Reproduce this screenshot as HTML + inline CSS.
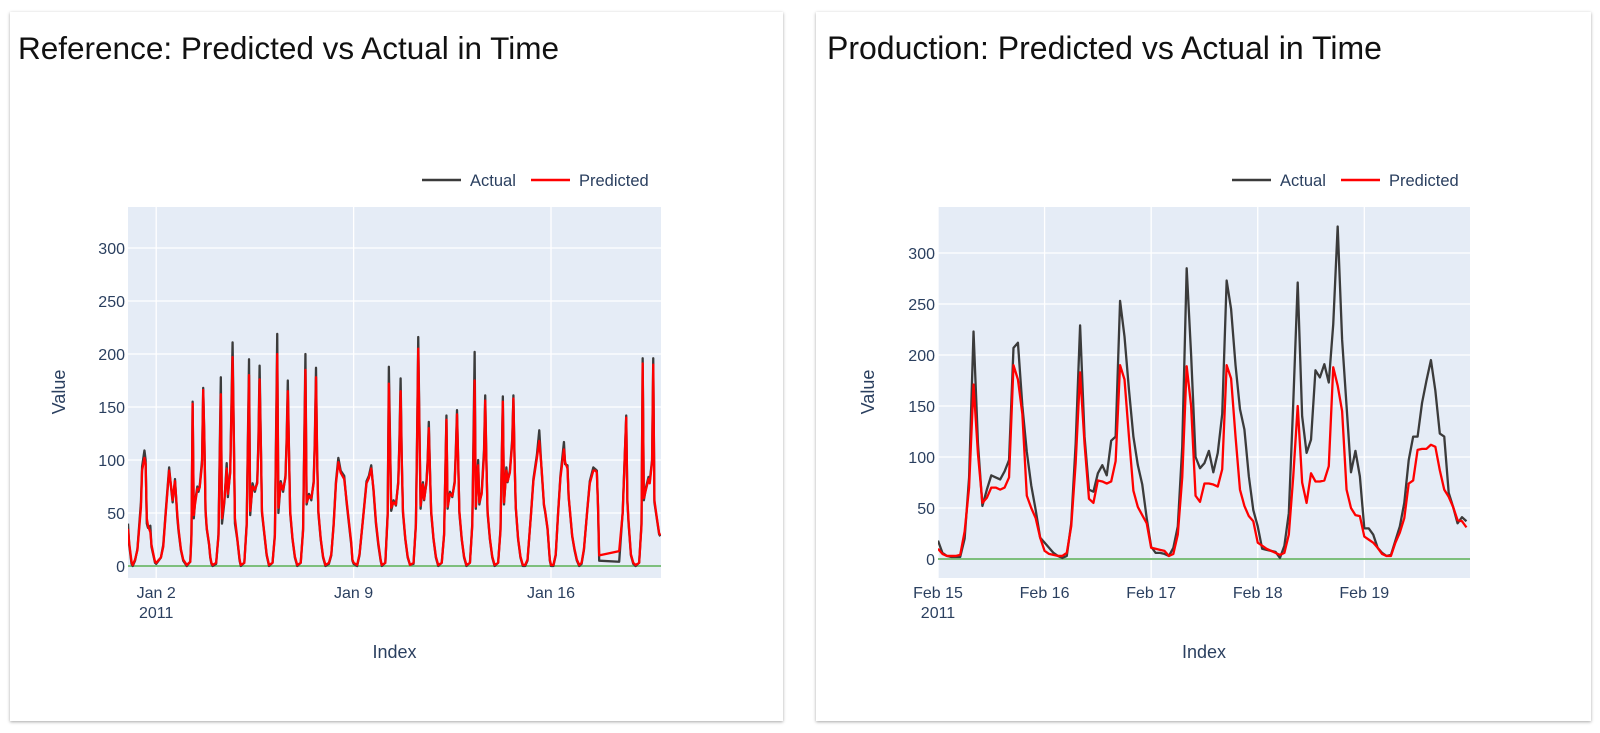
<!DOCTYPE html>
<html><head><meta charset="utf-8"><style>
html,body{margin:0;padding:0;background:#fff;width:1600px;height:733px;overflow:hidden}
.card{position:absolute;background:#fff;box-shadow:0 1px 3px rgba(0,0,0,0.35);}
svg{position:absolute;left:0;top:0}
</style></head><body>
<div class="card" style="left:10px;top:12px;width:773px;height:709px"></div>
<div class="card" style="left:816px;top:12px;width:775px;height:709px"></div>
<svg id="svg" width="1600" height="733" xmlns="http://www.w3.org/2000/svg"></svg>
<script>
// ---- Left (reference) chart data: hours since 2011-01-01 00:00 ----
const leftHours = [
0,1,3,4,6,8,11,12,14,15,16,17,19,20,22,23,
24,28,30,32,35,37,38,40,42,43,45,47,
50,53,54,55,56,57,59,60,61,63,64,65,66,67,69,70,71,
72,75,77,79,80,82,84,85,87,89,90,91,93,95,
96,99,101,103,104,106,108,110,111,112,113,114,116,118,
120,123,125,127,128,130,132,134,135,136,137,138,140,142,
144,147,149,151,152,154,156,158,159,160,161,162,164,166,
168,171,173,175,177,179,181,184,186,188,190,191,
192,195,197,200,203,205,207,209,211,213,215,
216,219,221,222,224,226,228,230,231,232,233,234,236,238,
240,243,245,246,247,249,251,252,254,255,256,257,258,260,262,
264,267,269,271,272,274,276,278,279,280,281,282,284,286,
288,291,293,295,296,298,299,301,303,304,305,306,308,310,
312,315,317,319,320,322,323,325,327,328,329,330,332,334,
336,338,340,343,345,348,350,352,354,355,357,358,359,
360,362,364,366,368,371,372,374,375,378,380,382,
384,386,388,391,393,396,398,399,400,401,418,421,424,425,426,428,430,
432,435,437,438,439,441,443,444,446,447,448,450,452,453];
const leftActual = [
40,20,2,0,5,16,60,94,109,100,40,36,38,18,8,3,
2,8,20,50,93,70,60,82,45,33,15,5,
0,4,30,155,45,60,75,70,75,100,168,120,51,35,20,8,2,
0,2,30,178,40,60,97,65,90,211,130,40,25,5,
0,3,40,195,48,78,70,80,120,189,120,50,30,10,
0,3,30,219,50,80,70,85,120,175,110,50,25,8,
0,3,35,200,58,68,62,80,120,187,100,50,25,8,
0,2,10,40,80,102,90,85,60,40,20,5,
2,0,10,45,80,85,95,70,40,20,5,
0,3,50,188,52,62,57,80,120,177,100,50,25,8,
1,2,40,120,216,54,79,62,80,100,136,90,50,25,8,
0,3,30,142,54,70,65,80,110,147,100,50,25,8,
0,3,40,202,54,100,58,70,110,161,100,50,25,8,
0,3,35,160,58,93,79,90,120,161,100,55,25,8,
0,0,5,50,82,105,128,90,57,51,35,20,5,
0,0,10,50,85,117,96,95,65,28,15,5,
0,2,15,55,80,93,91,90,55,5,4,51,142,60,40,10,2,
0,3,40,196,62,75,84,80,100,196,60,45,30,28];
const leftPred = [
35,22,4,1,6,15,55,90,102,96,45,38,32,20,9,4,
3,8,18,48,90,72,62,80,48,35,16,6,
1,4,28,153,48,58,73,72,74,96,166,118,53,36,21,9,3,
1,3,28,162,45,62,92,68,88,197,125,45,26,6,
1,3,38,180,52,75,72,78,115,176,118,52,31,11,
1,3,28,200,55,78,72,83,115,165,108,52,26,9,
1,3,33,185,60,66,64,78,115,178,98,52,26,9,
1,3,11,38,78,98,88,82,62,42,22,6,
3,1,11,44,78,83,92,72,42,22,6,
1,3,48,172,55,60,58,78,115,165,98,52,26,9,
1,3,38,115,205,57,77,63,78,97,130,88,52,26,9,
1,3,29,138,56,68,66,78,106,143,98,52,26,9,
1,3,38,175,56,95,60,68,105,156,98,52,26,9,
1,3,33,155,60,90,80,88,116,158,98,56,26,9,
1,1,6,49,80,102,118,92,58,52,36,21,6,
1,1,11,49,83,110,98,92,66,29,16,6,
1,3,16,54,78,90,90,88,57,10,14,50,140,62,42,11,3,
1,3,38,191,64,73,82,78,98,190,62,46,31,29];
const leftTickHours = [24,192,360];
const leftTickLabels = ["Jan 2","Jan 9","Jan 16"];
const yTickValues = [0,50,100,150,200,250,300];

// ---- Right (production) chart data: hourly from 2011-02-15 00:00 ----
const rightActual = [
18,6,3,2,2,2,20,80,223,113,
52,68,82,80,78,86,97,207,212,150,
105,72,48,21,16,11,6,3,1,3,
35,113,229,120,68,66,84,92,82,116,
120,253,218,166,120,92,73,40,12,6,
6,5,3,11,32,110,285,200,100,89,
94,106,85,104,142,273,245,190,147,127,
81,48,32,10,9,8,7,1,13,45,
153,271,140,104,117,185,178,191,173,230,
326,215,150,85,106,81,30,30,24,11,
6,3,4,18,32,55,97,120,120,153,
175,195,165,123,120,65,51,35,41,37];
const rightPred = [
10,5,3,3,3,4,27,70,171,103,
55,60,70,70,68,70,80,190,176,142,
62,50,40,21,8,5,4,3,3,6,
32,94,183,113,59,55,77,76,74,76,
96,190,176,120,67,51,43,35,11,10,
9,8,3,5,24,80,189,150,62,56,
74,74,73,71,88,190,177,120,68,52,
42,37,16,13,10,8,6,4,6,24,
81,150,75,55,84,76,76,77,91,188,
170,145,68,50,43,42,22,19,16,11,
5,3,3,16,26,40,74,77,107,108,
108,112,110,87,68,61,51,38,37,31];
const rightTickHours = [0,24,48,72,96];
const rightTickLabels = ["Feb 15","Feb 16","Feb 17","Feb 18","Feb 19"];

const NS="http://www.w3.org/2000/svg";
const svg=document.getElementById('svg');
function mk(tag,attrs,parent){const e=document.createElementNS(NS,tag);for(const k in attrs)e.setAttribute(k,attrs[k]);(parent||svg).appendChild(e);return e;}
const FONT='"Liberation Sans", sans-serif';
const TICKC='#2a3f5f';

function drawChart(cfg){
  const g=mk('g',{});
  
  
  const xS=h=>cfg.x0+(h-cfg.hMin)*(cfg.x1-cfg.x0)/(cfg.hMax-cfg.hMin);
  const yS=v=>cfg.y0px-(v-0)*cfg.pxPerUnit;
  const t=mk('text',{x:cfg.titleX,y:59,'font-family':'"Liberation Sans", sans-serif','font-size':cfg.titleSize,fill:'#111'},g);
  t.textContent=cfg.title;
  
  
  const bg=mk('rect',{x:cfg.x0,y:cfg.top,width:cfg.x1-cfg.x0,height:cfg.bottom-cfg.top,fill:'#e5ecf6'},g);
  
  
  yTickValues.forEach(v=>{
    const y=yS(v);
    const l=mk('line',{x1:cfg.x0,x2:cfg.x1,y1:y,y2:y,stroke:'#fff','stroke-width':1.3},g);
    
    
    const tx=mk('text',{x:cfg.x0-3,y:y+6,'text-anchor':'end','font-family':FONT,'font-size':16,fill:TICKC},g);
    tx.textContent=String(v);
    
    
  });
  cfg.ticks.forEach((h,i)=>{
    const x=xS(h);
    const l=mk('line',{x1:x,x2:x,y1:cfg.top,y2:cfg.bottom,stroke:'#fff','stroke-width':1.3},g);
    
    
    const tx=mk('text',{x:x,y:598,'text-anchor':'middle','font-family':FONT,'font-size':16,fill:TICKC},g);
    tx.textContent=cfg.tickLabels[i];
    
    
    if(i===0){
      const yr=mk('text',{x:x,y:618,'text-anchor':'middle','font-family':FONT,'font-size':16,fill:TICKC},g);
      yr.textContent='2011';
      
      
    }
  });
  const z=mk('line',{x1:cfg.x0,x2:cfg.x1,y1:yS(0),y2:yS(0),stroke:'#7dbf7d','stroke-width':2},g);
  
  
  const cid='clip'+cfg.name;
  const cp=mk('clipPath',{id:cid},g);mk('rect',{x:cfg.x0,y:cfg.top,width:cfg.x1-cfg.x0,height:cfg.bottom-cfg.top},cp);
  function series(hours,vals,color,name){
    const d=vals.map((v,i)=>(i?'L':'M')+xS(hours[i]).toFixed(2)+','+yS(v).toFixed(2)).join('');
    const p=mk('path',{d:d,fill:'none',stroke:color,'stroke-width':2.3,'stroke-linejoin':'round','clip-path':'url(#'+cid+')'},g);
    
    
  }
  series(cfg.hours,cfg.actual,'#3b3b3b','actual-line');
  series(cfg.hours,cfg.pred,'#ff0000','predicted-line');
  const lg=mk('g',{},g);
  
  
  [['Actual','#3b3b3b',cfg.legX],['Predicted','#ff0000',cfg.legX+109]].forEach(([lab,c,lx])=>{
    const e=mk('g',{},lg);
    
    
    mk('line',{x1:lx,x2:lx+39,y1:180,y2:180,stroke:c,'stroke-width':2.5},e);
    const tx=mk('text',{x:lx+48,y:186,'font-family':FONT,'font-size':16.5,fill:TICKC},e);
    tx.textContent=lab;
  });
  const xt=mk('text',{x:(cfg.x0+cfg.x1)/2,y:658,'text-anchor':'middle','font-family':FONT,'font-size':18,fill:TICKC},g);
  xt.textContent='Index';
  
  
  const yt=mk('text',{x:cfg.yTitleX,y:392,'text-anchor':'middle','font-family':FONT,'font-size':18,fill:TICKC,transform:'rotate(-90 '+cfg.yTitleX+' 392)'},g);
  yt.textContent='Value';
  
  
}

const rightHours=rightActual.map((_,i)=>i);
drawChart({name:'reference-chart',title:'Reference: Predicted vs Actual in Time',titleX:18,titleSize:31.5,
  x0:128,x1:661,hMin:0,hMax:453.6,top:207,bottom:578,y0px:566,pxPerUnit:1.06,
  hours:leftHours,actual:leftActual,pred:leftPred,ticks:leftTickHours,tickLabels:leftTickLabels,
  legX:422,yTitleX:65});
drawChart({name:'production-chart',title:'Production: Predicted vs Actual in Time',titleX:827,titleSize:32,
  x0:938,x1:1470,hMin:0,hMax:119.8,top:207,bottom:578,y0px:559,pxPerUnit:1.02,
  hours:rightHours,actual:rightActual,pred:rightPred,ticks:rightTickHours,tickLabels:rightTickLabels,
  legX:1232,yTitleX:874});
</script>
</body></html>
